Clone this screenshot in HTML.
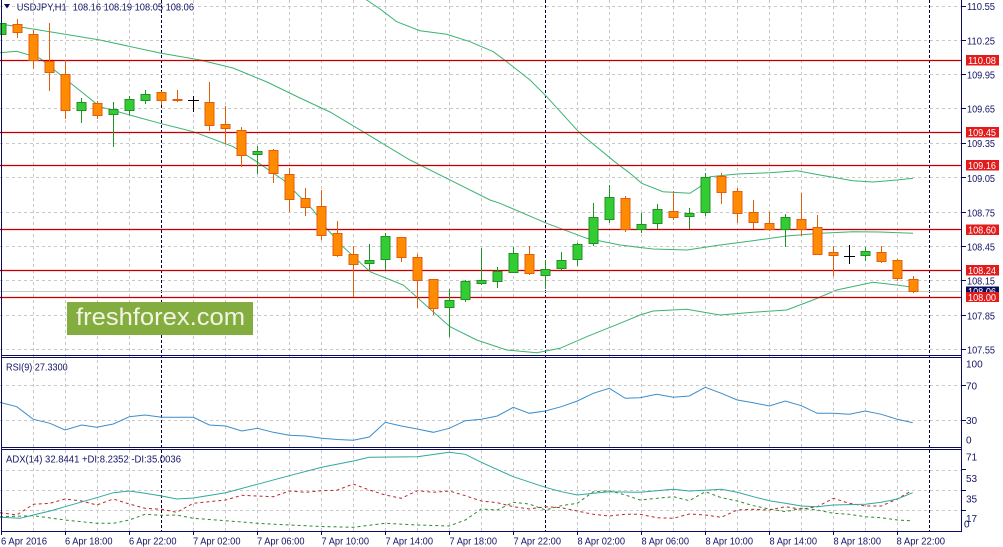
<!DOCTYPE html>
<html><head><meta charset="utf-8"><style>
html,body{margin:0;padding:0;background:#fff;}
svg{display:block;}
text{font-family:"Liberation Sans",Arial,sans-serif;}
</style></head><body>
<svg width="1003" height="547" viewBox="0 0 1003 547" xmlns="http://www.w3.org/2000/svg">
<rect width="1003" height="547" fill="#fff"/>
<!-- vertical grid -->
<g stroke="#c8c8c8" stroke-width="1" stroke-dasharray="3,3">
<path d="M33.5,0V531M65.5,0V531M97.5,0V531M129.5,0V531M193.5,0V531M225.5,0V531M257.5,0V531M289.5,0V531M321.5,0V531M353.5,0V531M385.5,0V531M417.5,0V531M449.5,0V531M481.5,0V531M513.5,0V531M577.5,0V531M609.5,0V531M641.5,0V531M673.5,0V531M705.5,0V531M737.5,0V531M769.5,0V531M801.5,0V531M833.5,0V531M865.5,0V531M897.5,0V531"/>
<path d="M0,6.5H962M0,40.5H962M0,74.5H962M0,108.5H962M0,143.5H962M0,177.5H962M0,212.5H962M0,246.5H962M0,280.5H962M0,315.5H962M0,349.5H962"/>
<path d="M0,385.5H962M0,420.5H962M0,470.5H962M0,490.5H962M0,510.5H962"/>
</g>
<!-- day separators -->
<g stroke="#00002a" stroke-width="1" stroke-dasharray="3,2">
<path d="M161.5,0V531M545.5,0V531M929.5,0V531"/>
</g>
<defs><clipPath id="cm"><rect x="0" y="0" width="962" height="355"/></clipPath>
<clipPath id="cr"><rect x="0" y="358" width="962" height="89"/></clipPath>
<clipPath id="ca"><rect x="0" y="450" width="962" height="81"/></clipPath></defs>
<g clip-path="url(#cm)">
<!-- bollinger -->
<g fill="none" stroke="#3cb371" stroke-width="1">
<polyline points="350,-10 366.7,0 380,9 396.7,21.7 420,30.7 446.7,34.3 470,41.7 493.3,51.7 506.7,61.7 530,80 546.7,96.7 580,133.3 616.7,163.3 630,173.3 641.7,183.3 663,191.7 690,193.3 700,186.7 710,176.7 737,174 770,172.7 797,170.7 820,175 853,180.7 873,182 897,180 913,178.3"/>
<polyline points="0,24 20,27 33,29 100,40 160,53 200,60 233,68 267,82 300,98 330,112 363,131.7 410,160 456.7,183.3 490,200 500,203.3 546.7,223.3 586.7,238.3 620,245 653,249 687,250 720,245 753,240.7 786.7,236 820,233.3 853,231.7 880,232 913,233.3"/>
<polyline points="0,52.7 16.7,51.3 40,58.3 66.7,80 100,106.7 133.3,116 160,123.3 193.3,131.7 233.3,146.7 256.7,161.7 283.3,180 313,210 327,229 343,246.7 370,271.7 403.3,285 420,300 450,326.7 476.7,340 506.7,350 536.7,352.7 560,348.3 586.7,336.7 620,323.3 640,315 653,311 686.7,309.3 720,315 753,312.3 786.7,310 813,300 836.7,290 873,282.3 896.7,285 913,287.3"/>
</g>
<!-- level lines -->
<g stroke="#ff3030" stroke-opacity="0.18" stroke-width="3">
<path d="M0,60.5H962M0,132.5H962M0,165.5H962M0,229.5H962M0,270.5H962M0,297.5H962"/>
</g>
<g stroke="#c00000" stroke-width="1">
<path d="M0,60.5H962M0,132.5H962M0,165.5H962M0,229.5H962M0,270.5H962M0,297.5H962"/>
</g>
<path d="M0,291.5H962" stroke="#c8c8c8" stroke-width="1"/>
<!-- wicks -->
<path fill="none" stroke="#e35d0f" stroke-width="1" d="M17.5,19V38M33.5,30V69M49.5,23V91M65.5,60V119M97.5,101V119M161.5,91V105M177.5,90V102M209.5,82V131M225.5,106V144M241.5,127V167M273.5,149V183M289.5,168V212M305.5,188V216M321.5,190V240M337.5,221V257M353.5,246V297M401.5,237V262M417.5,254V308M433.5,279V315M529.5,246V275M625.5,196V232M673.5,191V220M721.5,173V204M737.5,188V223M753.5,200V229M769.5,212V231M801.5,193V236M817.5,215V255M833.5,246V276M881.5,246V263M897.5,259V281M913.5,276V293"/>
<path fill="none" stroke="#22912a" stroke-width="1" d="M1.5,20V37M81.5,98V123M113.5,102V147M129.5,96V115M145.5,90V104M257.5,146V174M369.5,244V271M385.5,233V270M449.5,289V337M465.5,280V302M481.5,248V285M497.5,267V288M513.5,247V273M545.5,260V289M561.5,252V270M577.5,243V266M593.5,203V246M609.5,185V223M641.5,213V233M657.5,204V229M689.5,208V229M705.5,173V216M785.5,214V247M865.5,247V261"/>
<!-- bear bodies -->
<g fill="#ff8c00" stroke="#e35d0f" stroke-width="1">
<rect x="13" y="24.5" width="9" height="8"/>
<rect x="29" y="34.5" width="9" height="26"/>
<rect x="45" y="61.5" width="9" height="11"/>
<rect x="61" y="74.5" width="9" height="36"/>
<rect x="93" y="103.5" width="9" height="12"/>
<rect x="157" y="92.5" width="9" height="8"/>
<rect x="173" y="99.5" width="9" height="1"/>
<rect x="205" y="102.5" width="9" height="23"/>
<rect x="221" y="124.5" width="9" height="4"/>
<rect x="237" y="130.5" width="9" height="25"/>
<rect x="269" y="150.5" width="9" height="23"/>
<rect x="285" y="174.5" width="9" height="25"/>
<rect x="301" y="198.5" width="9" height="9"/>
<rect x="317" y="206.5" width="9" height="29"/>
<rect x="333" y="233.5" width="9" height="22"/>
<rect x="349" y="254.5" width="9" height="10"/>
<rect x="397" y="237.5" width="9" height="20"/>
<rect x="413" y="257.5" width="9" height="23"/>
<rect x="429" y="279.5" width="9" height="29"/>
<rect x="525" y="254.5" width="9" height="19"/>
<rect x="621" y="198.5" width="9" height="31"/>
<rect x="669" y="211.5" width="9" height="6"/>
<rect x="717" y="176.5" width="9" height="16"/>
<rect x="733" y="191.5" width="9" height="22"/>
<rect x="749" y="212.5" width="9" height="10"/>
<rect x="765" y="223.5" width="9" height="6"/>
<rect x="797" y="219.5" width="9" height="10"/>
<rect x="813" y="227.5" width="9" height="27"/>
<rect x="829" y="252.5" width="9" height="3"/>
<rect x="877" y="252.5" width="9" height="9"/>
<rect x="893" y="260.5" width="9" height="18"/>
<rect x="909" y="279.5" width="9" height="12"/>
</g>
<!-- bull bodies -->
<g fill="#33cc33" stroke="#22912a" stroke-width="1">
<rect x="-3" y="23.5" width="9" height="11"/>
<rect x="77" y="102.5" width="9" height="8"/>
<rect x="109" y="109.5" width="9" height="5"/>
<rect x="125" y="99.5" width="9" height="11"/>
<rect x="141" y="94.5" width="9" height="6"/>
<rect x="253" y="151.5" width="9" height="3"/>
<rect x="365" y="260.5" width="9" height="3"/>
<rect x="381" y="236.5" width="9" height="23"/>
<rect x="445" y="300.5" width="9" height="7"/>
<rect x="461" y="281.5" width="9" height="18"/>
<rect x="477" y="280.5" width="9" height="3"/>
<rect x="493" y="271.5" width="9" height="10"/>
<rect x="509" y="253.5" width="9" height="19"/>
<rect x="541" y="269.5" width="9" height="6"/>
<rect x="557" y="260.5" width="9" height="8"/>
<rect x="573" y="244.5" width="9" height="15"/>
<rect x="589" y="217.5" width="9" height="26"/>
<rect x="605" y="197.5" width="9" height="22"/>
<rect x="637" y="224.5" width="9" height="5"/>
<rect x="653" y="209.5" width="9" height="14"/>
<rect x="685" y="213.5" width="9" height="3"/>
<rect x="701" y="177.5" width="9" height="35"/>
<rect x="781" y="217.5" width="9" height="12"/>
<rect x="861" y="251.5" width="9" height="4"/>
</g>
<!-- doji -->
<path fill="none" stroke="#000" stroke-width="1" d="M193.5,96V112M188,100.5H199M849.5,245V264M844,256.5H855"/>
<!-- watermark -->
<rect x="67" y="302" width="186" height="33" fill="#84ad3f"/>
<text x="76" y="325" font-size="24" fill="#f4f4e6" textLength="169" lengthAdjust="spacingAndGlyphs">freshforex.com</text>
</g>
<!-- RSI -->
<g clip-path="url(#cr)">
<polyline fill="none" stroke="#3c8dcb" stroke-width="1" points="0,402.3 16.7,406.7 33.3,419.3 50,423.3 65,430 81.7,425 96.7,427.3 113.3,424 129.3,416.7 145,415 161.7,417.3 193.3,417.3 209.3,425 225.7,426 241.7,431 257.3,428.3 273.3,432.3 289.3,435.3 305.7,436 321.7,438.3 337.5,439.5 353.3,440.3 369.3,437 385.3,422.3 401.3,426 417.3,429 433.3,432.3 449.3,428.3 465.3,420.7 481.3,419.3 497.3,416 513.3,407.3 529.3,413.3 545.3,411 561.3,406.7 577.3,401 593.3,393.3 609.3,388.3 625.3,398.3 640,397.7 656.7,394.3 673.3,397.3 689.3,396 705.3,387.3 721.3,393.3 737.3,400 753.3,402.7 769.3,406 785.3,401 801.3,405.7 817.3,413.3 833.3,413.3 849.3,414.3 865.3,411 881.3,414.3 897.3,419.3 912.7,422.7"/>
</g>
<!-- ADX -->
<g clip-path="url(#ca)" fill="none" stroke-width="1">
<polyline stroke="#b8282b" stroke-dasharray="3,3" points="0,512.7 16.7,515 33.3,504.3 50,503.3 65,499 81.7,501 96.7,505 113.3,499 129.3,504 145,508.3 161.7,509.3 176.7,512.3 193.3,503.3 225.7,500 241.7,495.3 273.3,496.7 289.3,491 305.7,492.3 321.7,490.7 336.7,490.3 353.3,484 369.3,490 385.3,495 401.3,498.3 417.3,490.7 433.3,492.3 449.3,491 465.3,495.7 481.3,501 497.3,502.7 513.3,506.7 529.3,509 545.3,506.7 561.3,507.7 577.3,511 593.3,514.3 609.3,516 625.3,514.3 640,514.3 656.7,517.7 673.3,518.3 689.3,514 705.3,515 721.3,517.3 737.3,510 753.3,509.3 769.3,510 785.3,506.7 801.3,509.3 817.3,506.7 833.3,498.3 849.3,503.3 865.3,506 881.3,506 897.3,499 910,491.7"/>
<polyline stroke="#2a8a2a" stroke-dasharray="3,3" points="0,516.7 33.3,515.7 65,520 96.7,523.3 113.3,523.3 129.3,520 145,514.3 161.7,515.3 176.7,515 193.3,518.3 225.7,520.7 257.3,523.3 289.3,525 321.7,526.5 353.3,527.3 385.3,523.3 417.3,525 449.3,526 465.3,520 481.3,509 497.3,510 513.3,502.3 529.3,504 545.3,510 561.3,505.7 577.3,503.3 593.3,491.7 609.3,490.7 625.3,495 640,500 673.3,496.7 689.3,500.7 705.3,491.7 721.3,497.7 737.3,501 753.3,505.7 769.3,509 785.3,511.7 801.3,508.3 817.3,510 833.3,513.3 849.3,514.3 865.3,516.7 881.3,517.7 897.3,520 910,520.7"/>
<polyline stroke="#2fa89e" points="0,517.3 20,518.3 33.3,515 50,511 65,506.7 96.7,497.7 113.3,492.7 129.3,491 145,493.3 161.7,496 176.7,499 193.3,498 225.7,492.7 257.3,484.3 289.3,475.7 321.7,467.3 353.3,461 369.3,457.3 417.3,456.7 449.3,452.3 465.3,454.3 481.3,462.3 513.3,476.7 545.3,487.3 561.3,491.7 577.3,495 593.3,493.3 609.3,491.7 640,492.3 673.3,489.3 689.3,491 705.3,490.3 721.3,489.3 737.3,492.3 753.3,496.7 769.3,500.7 785.3,503.3 801.3,506 817.3,506.7 833.3,505 865.3,504.3 881.3,502.3 897.3,499 912.7,492.7"/>
</g>
<!-- frame -->
<g stroke="#0b0b5e" stroke-width="1" fill="none">
<path d="M1.5,0V531.5M961.5,0V531.5M1,355.5H962M1,357.5H962M1,447.5H962M1,449.5H962M1,531.5H962"/>
<path d="M962,6.5h4M962,40.5h4M962,74.5h4M962,108.5h4M962,143.5h4M962,177.5h4M962,212.5h4M962,246.5h4M962,280.5h4M962,315.5h4M962,349.5h4M962,385.5h4M962,420.5h4M962,469.5h4M962,490.5h4M962,510.5h4"/>
<path d="M1.5,531v4M65.5,531v4M129.5,531v4M193.5,531v4M257.5,531v4M321.5,531v4M385.5,531v4M449.5,531v4M513.5,531v4M577.5,531v4M641.5,531v4M705.5,531v4M769.5,531v4M833.5,531v4M897.5,531v4"/>
</g>
<!-- header -->
<polygon points="4,4 10,4 7,8.5" fill="#0b0b5e"/>
<g fill="#141466" font-size="10">
<text x="16.7" y="10.7" textLength="50" lengthAdjust="spacingAndGlyphs">USDJPY,H1</text>
<text x="72.7" y="10.7" textLength="121.3" lengthAdjust="spacingAndGlyphs">108.16 108.19 108.05 108.06</text>
<text x="6" y="370.5" textLength="61.7" lengthAdjust="spacingAndGlyphs">RSI(9) 27.3300</text>
<text x="6" y="462.3" textLength="175" lengthAdjust="spacingAndGlyphs">ADX(14) 32.8441 +DI:8.2352 -DI:35.0036</text>
</g>
<!-- price axis labels -->
<g fill="#141466" font-size="10">
<text x="967" y="10.2" textLength="28" lengthAdjust="spacingAndGlyphs">110.55</text>
<text x="967" y="44.3" textLength="28" lengthAdjust="spacingAndGlyphs">110.25</text>
<text x="967" y="78.5" textLength="28" lengthAdjust="spacingAndGlyphs">109.95</text>
<text x="967" y="112.5" textLength="28" lengthAdjust="spacingAndGlyphs">109.65</text>
<text x="967" y="147" textLength="28" lengthAdjust="spacingAndGlyphs">109.35</text>
<text x="967" y="181.8" textLength="28" lengthAdjust="spacingAndGlyphs">109.05</text>
<text x="967" y="216.3" textLength="28" lengthAdjust="spacingAndGlyphs">108.75</text>
<text x="967" y="250.3" textLength="28" lengthAdjust="spacingAndGlyphs">108.45</text>
<text x="967" y="284.3" textLength="28" lengthAdjust="spacingAndGlyphs">108.15</text>
<text x="967" y="319.3" textLength="28" lengthAdjust="spacingAndGlyphs">107.85</text>
<text x="967" y="353.6" textLength="28" lengthAdjust="spacingAndGlyphs">107.55</text>
<text x="966" y="367.6">100</text>
<text x="966" y="389.6">70</text>
<text x="966" y="423.9">30</text>
<text x="966" y="443.6">0</text>
<text x="966" y="460.3">71</text>
<text x="966" y="481.9">53</text>
<text x="966" y="502.6">35</text>
<text x="966" y="521.9">17</text>
<text x="964" y="527.3">0</text>
</g>
<!-- level labels -->
<rect x="966" y="286.5" width="33" height="10" fill="#0b0b5e"/>
<text x="968" y="295" fill="#fff" font-size="10" textLength="28" lengthAdjust="spacingAndGlyphs">108.06</text>
<g fill="#e31b1b">
<rect x="966" y="55" width="33" height="10.5"/>
<rect x="966" y="127" width="33" height="10.5"/>
<rect x="966" y="160" width="33" height="10.5"/>
<rect x="966" y="224.5" width="33" height="10.5"/>
<rect x="966" y="265" width="33" height="10.5"/>
<rect x="966" y="292" width="33" height="10"/>
</g>
<g fill="#fff" font-size="10">
<text x="968" y="64" textLength="28" lengthAdjust="spacingAndGlyphs">110.08</text>
<text x="968" y="136" textLength="28" lengthAdjust="spacingAndGlyphs">109.45</text>
<text x="968" y="169" textLength="28" lengthAdjust="spacingAndGlyphs">109.16</text>
<text x="968" y="233.5" textLength="28" lengthAdjust="spacingAndGlyphs">108.60</text>
<text x="968" y="274" textLength="28" lengthAdjust="spacingAndGlyphs">108.24</text>
<text x="968" y="300.8" textLength="28" lengthAdjust="spacingAndGlyphs">108.00</text>
</g>
<!-- time axis labels -->
<g fill="#141466" font-size="10.5">
<text x="1" y="544.5" textLength="46" lengthAdjust="spacingAndGlyphs">6 Apr 2016</text>
<text x="65" y="544.5" textLength="47.5" lengthAdjust="spacingAndGlyphs">6 Apr 18:00</text>
<text x="129" y="544.5" textLength="47.5" lengthAdjust="spacingAndGlyphs">6 Apr 22:00</text>
<text x="193" y="544.5" textLength="47.5" lengthAdjust="spacingAndGlyphs">7 Apr 02:00</text>
<text x="257" y="544.5" textLength="47.5" lengthAdjust="spacingAndGlyphs">7 Apr 06:00</text>
<text x="321.5" y="544.5" textLength="47.5" lengthAdjust="spacingAndGlyphs">7 Apr 10:00</text>
<text x="385.5" y="544.5" textLength="47.5" lengthAdjust="spacingAndGlyphs">7 Apr 14:00</text>
<text x="449.5" y="544.5" textLength="47.5" lengthAdjust="spacingAndGlyphs">7 Apr 18:00</text>
<text x="513.5" y="544.5" textLength="47.5" lengthAdjust="spacingAndGlyphs">7 Apr 22:00</text>
<text x="577.5" y="544.5" textLength="47.5" lengthAdjust="spacingAndGlyphs">8 Apr 02:00</text>
<text x="641.5" y="544.5" textLength="47.5" lengthAdjust="spacingAndGlyphs">8 Apr 06:00</text>
<text x="705.5" y="544.5" textLength="47.5" lengthAdjust="spacingAndGlyphs">8 Apr 10:00</text>
<text x="769.5" y="544.5" textLength="47.5" lengthAdjust="spacingAndGlyphs">8 Apr 14:00</text>
<text x="833.5" y="544.5" textLength="47.5" lengthAdjust="spacingAndGlyphs">8 Apr 18:00</text>
<text x="896.5" y="544.5" textLength="48.5" lengthAdjust="spacingAndGlyphs">8 Apr 22:00</text>
</g>
</svg>
</body></html>
